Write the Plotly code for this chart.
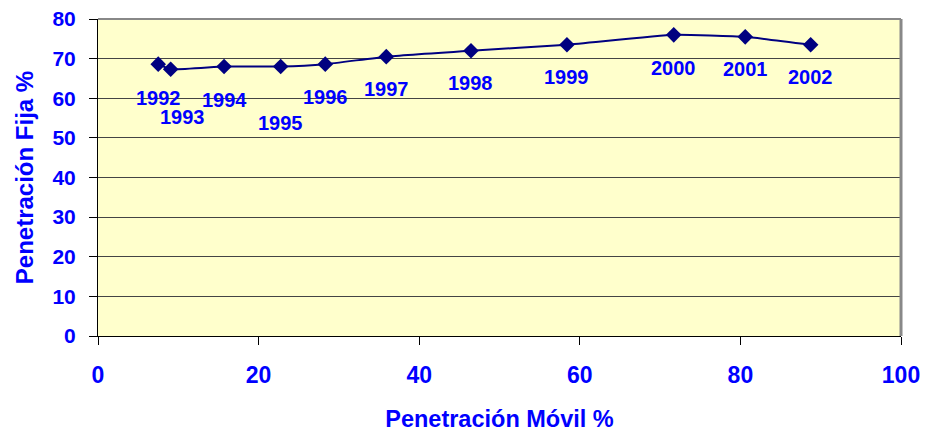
import plotly.graph_objects as go

# Penetración móvil (%) vs penetración fija (%) por año
years = ["1992", "1993", "1994", "1995", "1996", "1997", "1998", "1999", "2000", "2001", "2002"]
movil = [7.5, 9.05, 15.7, 22.75, 28.3, 35.9, 46.45, 58.4, 71.7, 80.6, 88.75]
fija = [68.6, 67.3, 68.0, 68.0, 68.6, 70.5, 72.0, 73.5, 76.0, 75.5, 73.5]

# pixel offsets of the year labels (below each point)
label_dx = [0, 12, 0, 0, 0, 0, 0, 0, 0, 0, 0]
label_dy = [-34, -48, -33, -56, -33, -32, -32, -32, -33, -32, -32]

BLUE = "#0000FF"
NAVY = "#000080"
FONT = "Liberation Sans, Arial, sans-serif"

fig = go.Figure()

fig.add_trace(go.Scatter(
    x=movil, y=fija,
    mode="lines+markers",
    line=dict(color=NAVY, width=2, shape="spline", smoothing=0.4),
    marker=dict(symbol="diamond", size=12, color=NAVY),
    showlegend=False,
    hoverinfo="skip"
))

for yr, xv, yv, dx, dy in zip(years, movil, fija, label_dx, label_dy):
    fig.add_annotation(
        x=xv, y=yv, text=f"<b>{yr}</b>", showarrow=False,
        xshift=dx, yshift=dy,
        font=dict(family=FONT, size=20, color=BLUE)
    )

# grey frame on top and right of the plot area
fig.add_shape(type="line", xref="paper", yref="paper", x0=0, x1=1, y0=1, y1=1,
              line=dict(color="#888888", width=2))
fig.add_shape(type="line", xref="paper", yref="paper", x0=1, x1=1, y0=0, y1=1,
              line=dict(color="#888888", width=3))

# the page body has an 8px margin, so the figure is 8px smaller than the window
fig.update_layout(
    width=920, height=429,
    margin=dict(l=90, r=27, t=11, b=101),
    paper_bgcolor="white",
    plot_bgcolor="#FFFFCC",
    font=dict(family=FONT, color=BLUE),
    xaxis=dict(
        range=[0, 100], dtick=20, tick0=0,
        automargin=False,
        showgrid=False, zeroline=False,
        showline=True, linecolor="#000000", linewidth=1,
        ticks="outside", ticklen=8, tickcolor="#000000",
        tickfont=dict(family=FONT, size=23, color=BLUE),
        ticklabelstandoff=10, ticklabeloverflow="allow",
        tickprefix="<b>", ticksuffix="</b>",
        title=dict(text="<b>Penetración Móvil %</b>", standoff=23,
                   font=dict(family=FONT, size=23.5, color=BLUE)),
    ),
    yaxis=dict(
        range=[0, 80], dtick=10, tick0=0,
        automargin=False,
        showgrid=True, gridcolor="#444444", gridwidth=1,
        zeroline=False,
        showline=True, linecolor="#000000", linewidth=1,
        ticks="outside", ticklen=8, tickcolor="#000000",
        tickfont=dict(family=FONT, size=21, color=BLUE),
        ticklabelstandoff=9, ticklabeloverflow="allow",
        tickprefix="<b>", ticksuffix="</b>",
        title=dict(text="<b>Penetración Fija %</b>", standoff=12,
                   font=dict(family=FONT, size=24, color=BLUE)),
    ),
)

fig.write_html("out.html")
